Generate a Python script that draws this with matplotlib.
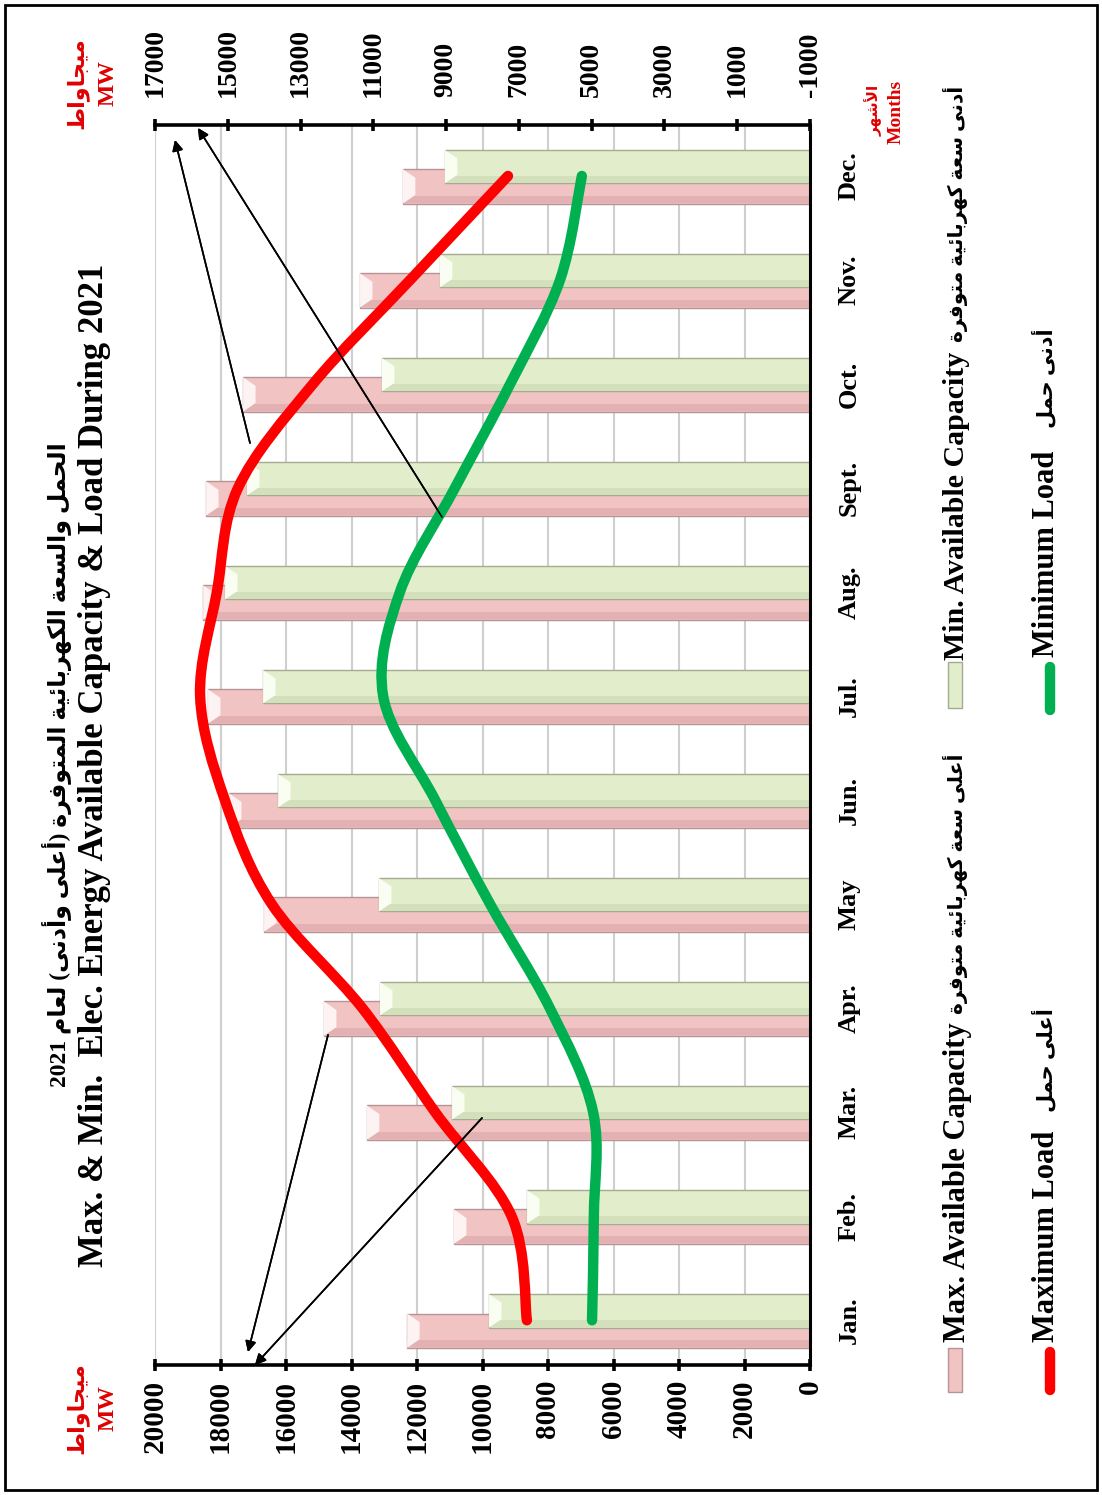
import re
import numpy as np
import matplotlib
matplotlib.use('Agg')
import matplotlib.pyplot as plt
from matplotlib.path import Path
from matplotlib.patches import PathPatch, Rectangle, Polygon
from matplotlib.lines import Line2D

months = ['Jan.', 'Feb.', 'Mar.', 'Apr.', 'May', 'Jun.', 'Jul.', 'Aug.', 'Sept.', 'Oct.', 'Nov.', 'Dec.']
max_cap = [12300, 10870, 13530, 14840, 16670, 17740, 18380, 18530, 18440, 17310, 13740, 12430]
min_cap = [9800, 8640, 10930, 13130, 13160, 16240, 16700, 17860, 17190, 13070, 11300, 11150]
max_load = [6780, 7200, 9300, 11300, 13790, 15080, 15760, 15300, 14720, 12660, 9990, 7300]
min_load = [4990, 4940, 4960, 6150, 7790, 9300, 10730, 10270, 8760, 7240, 5870, 5270]

left_ticks = list(range(0, 20001, 2000))
right_ticks = list(range(-1000, 17001, 2000))

# arabic presentation forms: isolated, final, initial, medial
FORMS = {
    'ا': (0xFE8D, 0xFE8E, None, None), 'أ': (0xFE83, 0xFE84, None, None),
    'ب': (0xFE8F, 0xFE90, 0xFE91, 0xFE92), 'ة': (0xFE93, 0xFE94, None, None),
    'ت': (0xFE95, 0xFE96, 0xFE97, 0xFE98), 'ج': (0xFE9D, 0xFE9E, 0xFE9F, 0xFEA0),
    'ح': (0xFEA1, 0xFEA2, 0xFEA3, 0xFEA4), 'د': (0xFEA9, 0xFEAA, None, None),
    'ر': (0xFEAD, 0xFEAE, None, None), 'س': (0xFEB1, 0xFEB2, 0xFEB3, 0xFEB4),
    'ش': (0xFEB5, 0xFEB6, 0xFEB7, 0xFEB8), 'ط': (0xFEC1, 0xFEC2, 0xFEC3, 0xFEC4),
    'ع': (0xFEC9, 0xFECA, 0xFECB, 0xFECC), 'ف': (0xFED1, 0xFED2, 0xFED3, 0xFED4),
    'ك': (0xFED9, 0xFEDA, 0xFEDB, 0xFEDC), 'ل': (0xFEDD, 0xFEDE, 0xFEDF, 0xFEE0),
    'م': (0xFEE1, 0xFEE2, 0xFEE3, 0xFEE4), 'ن': (0xFEE5, 0xFEE6, 0xFEE7, 0xFEE8),
    'ه': (0xFEE9, 0xFEEA, 0xFEEB, 0xFEEC), 'و': (0xFEED, 0xFEEE, None, None),
    'ى': (0xFEEF, 0xFEF0, None, None), 'ي': (0xFEF1, 0xFEF2, 0xFEF3, 0xFEF4),
    'ئ': (0xFE89, 0xFE8A, 0xFE8B, 0xFE8C),
}
LAM_ALEF = {'ا': (0xFEFB, 0xFEFC), 'أ': (0xFEF7, 0xFEF8)}


def ar(text):
    out = []
    prev = False
    i = 0
    while i < len(text):
        c = text[i]
        if c not in FORMS:
            out.append(c)
            prev = False
            i += 1
            continue
        if c == 'ل' and i + 1 < len(text) and text[i + 1] in LAM_ALEF:
            iso, fin = LAM_ALEF[text[i + 1]]
            out.append(chr(fin if prev else iso))
            prev = False
            i += 2
            continue
        iso, fin, ini, med = FORMS[c]
        nxt = text[i + 1] if i + 1 < len(text) else ''
        joins = ini is not None and nxt in FORMS
        g = med if (prev and joins) else fin if prev else ini if joins else iso
        out.append(chr(g))
        prev = joins
        i += 1
    vis = ''.join(out)[::-1]
    vis = re.sub(r'[0-9]+', lambda m: m.group(0)[::-1], vis)
    return vis.translate(str.maketrans('()', ')('))


def smooth_path(xs, ys):
    pts = np.column_stack([xs, ys]).astype(float)
    n = len(pts)
    verts, codes = [pts[0]], [Path.MOVETO]
    for k in range(n - 1):
        p0 = pts[k - 1] if k > 0 else pts[k]
        p1, p2 = pts[k], pts[k + 1]
        p3 = pts[k + 2] if k + 2 < n else pts[k + 1]
        verts += [p1 + (p2 - p0) / 6, p2 - (p3 - p1) / 6, p2]
        codes += [Path.CURVE4] * 3
    return Path(verts, codes)


FAM = ['Liberation Serif', 'DejaVu Sans']
plt.rcParams['font.family'] = FAM
plt.rcParams['font.weight'] = 'bold'
plt.rcParams['axes.unicode_minus'] = False

W, H = 1102, 1495
fig = plt.figure(figsize=(W / 100, H / 100), dpi=100)


def fx(px):
    return px / W


def fy(py):
    return 1 - py / H


ax = fig.add_axes([fx(155), fy(1365), fx(810) - fx(155), fy(125) - fy(1365)])
ax2 = ax.twiny()

y = np.arange(len(months))
ax.set_ylim(-0.43, 11.49)
ax.set_xlim(20000, 0)
ax2.set_xlim(17000, -1000)

ax.set_xticks(left_ticks)
ax.xaxis.grid(True, color='#cfcfcf', lw=1.5)
ax.set_axisbelow(True)

# bars with a light bevel on the free end and a soft shade on the lower edge
for vals, off, hgt, face, edge, cap, shade in [
        (max_cap, -0.10, 0.33, '#f2c3c3', '#b49494', '#fdf3f3', '#e3b1b1'),
        (min_cap, 0.09, 0.32, '#e2eecb', '#a3ab92', '#fafdf2', '#d3e0bb')]:
    ax.barh(y + off, vals, height=hgt, color=face, edgecolor=edge, lw=1.0, zorder=2)
    ax.barh(y + off - hgt * 0.38, vals, height=hgt * 0.2, color=shade, lw=0, zorder=2.5)
    d = 380
    for yi, v in zip(y + off, vals):
        y0, y1 = yi - hgt / 2, yi + hgt / 2
        ax.add_patch(Polygon([(v, y0), (v, y1), (v - d, y1 - hgt * 0.25), (v - d, y0 + hgt * 0.25)],
                             closed=True, facecolor=cap, edgecolor='none', zorder=3))

for vals, col in [(max_load, '#ff0000'), (min_load, '#00b050')]:
    ax2.add_patch(PathPatch(smooth_path(vals, y), fill=False, edgecolor=col, lw=7.5,
                            capstyle='round', joinstyle='round', zorder=5))

ax.set_zorder(1)
ax2.set_zorder(2)
ax2.patch.set_visible(False)

for a in (ax, ax2):
    for s in a.spines.values():
        s.set_visible(False)
ax.spines['bottom'].set_visible(True)
ax.spines['bottom'].set_linewidth(2.6)
ax.spines['right'].set_visible(True)
ax.spines['right'].set_linewidth(2.2)
ax2.spines['top'].set_visible(True)
ax2.spines['top'].set_linewidth(2.6)

ax.tick_params(axis='x', direction='inout', length=9, width=2.6, pad=6, labelsize=21, labelrotation=90)
ax2.set_xticks(right_ticks)
ax2.tick_params(axis='x', direction='inout', length=9, width=2.6, pad=16, labelsize=20, labelrotation=90)

ax.yaxis.tick_right()
ax.set_yticks(y)
ax.set_yticklabels(months, rotation=90, va='center', ha='left', fontsize=19)
ax.tick_params(axis='y', length=0, pad=20)

tkw = dict(rotation=90, rotation_mode='anchor', va='center', fontweight='bold', family=FAM)

# titles
fig.text(fx(57), fy(765), ar('الحمل والسعة الكهربائية المتوفرة (أعلى وأدنى) لعام 2021'),
         ha='center', fontsize=17, **tkw)
fig.text(fx(95), fy(765), 'Max. & Min.  Elec. Energy Available Capacity & Load During 2021',
         ha='center', fontsize=25, **tkw)

# unit labels
for py in (1408, 83):
    fig.text(fx(77), fy(py), ar('ميجاواط'), ha='center', fontsize=16, color='#e00000', **tkw)
    fig.text(fx(108), fy(py), 'MW', ha='center', fontsize=17, color='#e00000', **tkw)
fig.text(fx(874), fy(110), ar('الأشهر'), ha='center', fontsize=11, color='#e00000', **tkw)
fig.text(fx(896), fy(112), 'Months', ha='center', fontsize=14, color='#e00000', **tkw)

# legend
fig.add_artist(Rectangle((fx(948), fy(1392)), fx(14), 44 / H, facecolor='#f2c3c3', edgecolor='#b49494', lw=1))
fig.add_artist(Rectangle((fx(948), fy(708)), fx(14), 46 / H, facecolor='#e2eecb', edgecolor='#a3ab92', lw=1))
fig.add_artist(Line2D([fx(1050), fx(1050)], [fy(1390), fy(1352)], color='#ff0000', lw=7.5, solid_capstyle='round'))
fig.add_artist(Line2D([fx(1050), fx(1050)], [fy(710), fy(667)], color='#00b050', lw=7.5, solid_capstyle='round'))

fig.text(fx(957), fy(1342), 'Max. Available Capacity', ha='left', fontsize=22, **tkw)
fig.text(fx(955), fy(1014), ar('أعلى سعة كهربائية متوفرة'), ha='left', fontsize=14.5, **tkw)
fig.text(fx(957), fy(660), 'Min. Available Capacity', ha='left', fontsize=21.5, **tkw)
fig.text(fx(955), fy(342), ar('أدنى سعة كهربائية متوفرة'), ha='left', fontsize=14.5, **tkw)
fig.text(fx(1047), fy(1342), 'Maximum Load', ha='left', fontsize=22, **tkw)
fig.text(fx(1045), fy(1112), ar('أعلى حمل'), ha='left', fontsize=15, **tkw)
fig.text(fx(1047), fy(657), 'Minimum Load', ha='left', fontsize=22, **tkw)
fig.text(fx(1045), fy(428), ar('أدنى حمل'), ha='left', fontsize=15, **tkw)

# pointer arrows from the curves to the two value axes
akw = dict(xycoords='figure fraction', textcoords='figure fraction',
           arrowprops=dict(arrowstyle='-|>', color='black', lw=1.2, mutation_scale=16, shrinkA=0, shrinkB=0))
for (x0, y0), (x1, y1) in [((328, 1035), (248, 1352)), ((482, 1118), (255, 1365)),
                           ((250, 443), (175, 140)), ((442, 517), (198, 128))]:
    fig.add_artist(ax.annotate('', xy=(fx(x1), fy(y1)), xytext=(fx(x0), fy(y0)), annotation_clip=False, **akw))

# outer frame
fig.add_artist(Rectangle((fx(5), fy(1490)), fx(1092), 1485 / H, fill=False, edgecolor='black', lw=2))

fig.savefig('out.png', dpi=100)
